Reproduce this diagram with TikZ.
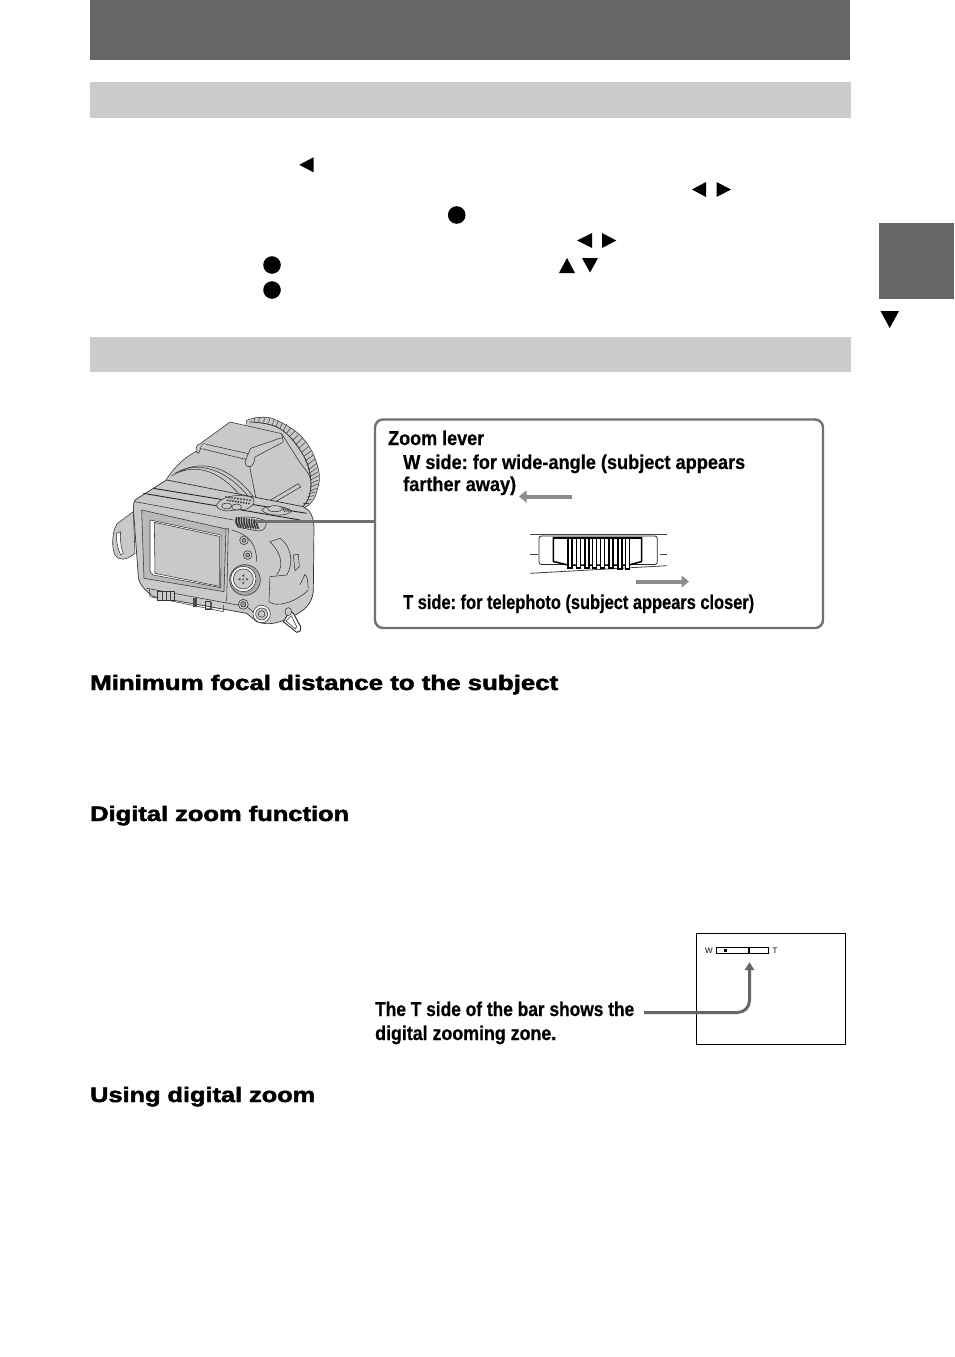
\documentclass[tikz,border=0pt]{standalone}
\usepackage{fontspec}
\usepackage{graphicx}
\setmainfont{Liberation Sans}[BoldFeatures={FakeBold=0.5}]
\newfontfamily\headf{Liberation Sans}[BoldFeatures={FakeBold=2}]
\frenchspacing
\usetikzlibrary{arrows.meta}
\definecolor{hdark}{HTML}{666666}
\definecolor{hlight}{HTML}{CCCCCC}
\definecolor{pline}{HTML}{707070}
\definecolor{cam}{HTML}{C9C9C9}
\definecolor{camd}{HTML}{9A9A9A}
\definecolor{arrg}{HTML}{8C8C8C}
\newcommand{\tw}[2]{\resizebox{#1pt}{\height}{#2}}
\tikzset{
 band/.style={fill=#1,draw=none},
 sym/.style={fill=black,draw=none},
 lab/.style={anchor=base west,inner sep=0pt,font=\fontsize{20}{22}\selectfont\bfseries},
 head/.style={anchor=base west,inner sep=0pt,font=\fontsize{21}{23}\selectfont\headf\bfseries},
 tiny/.style={anchor=center,inner sep=0pt,font=\fontsize{8}{9}\selectfont},
 gar/.style={draw=arrg,line width=4pt,-{Triangle[length=7.5pt,width=12pt]}},
 cl/.style={draw=black!80,line width=0.55pt,line join=round},
 cf/.style={cl,fill=cam},
 cw/.style={cl,fill=white}
}
\begin{document}
\begin{tikzpicture}[x=1pt,y=-1pt]
\useasboundingbox (0,0) rectangle (954,1357);
\fill[white] (0,0) rectangle (954,1357);
% bands
\fill[band=hdark] (90,0) rectangle (850,60);
\fill[band=hlight] (90,82) rectangle (851,118);
\fill[band=hlight] (90,337) rectangle (851,372);
\fill[band=hdark] (879,223) rectangle (954,299);
\fill[sym] (880.5,311) -- (899,311) -- (889.7,328) -- cycle;
% inline symbols
\fill[sym] (299.3,164.8) -- (313.5,157.3) -- (313.5,172.3) -- cycle;
\fill[sym] (692,189.5) -- (706,182) -- (706,197) -- cycle;
\fill[sym] (731,189.5) -- (716.5,182) -- (716.5,197) -- cycle;
\fill[sym] (456.7,215) circle (8.8);
\fill[sym] (577,240.5) -- (592,233) -- (592,248) -- cycle;
\fill[sym] (616.3,240.5) -- (602,233) -- (602,248) -- cycle;
\fill[sym] (567,258) -- (575,273) -- (559,273) -- cycle;
\fill[sym] (582,258) -- (598,258) -- (590,272.5) -- cycle;
\fill[sym] (272,265) circle (8.8);
\fill[sym] (272,290) circle (8.8);
% camera (coordinates in 3x crop space)
\begin{scope}[shift={(100,405)},x=0.3333pt,y=-0.3333pt]
 % lens ring with hatching
 \draw[cf] plot[smooth,tension=0.7] coordinates {(440,46) (480,37) (530,46) (610,101) (655,191) (650,261) (625,301) (590,315)} -- (440,200) -- cycle;
 \foreach \a/\b/\c/\d in {465/39/462/50,480/38/475/50,495/39/490/52,510/40/505/54,522/44/517/59,535/48/528/65,548/53/539/71,560/58/550/78,572/68/559/86,585/78/568/95,596/89/578/106,607/100/588/118,616/112/596/130,625/125/604/143,633/138/610/155,640/150/615/168,645/162/620/181,650/175/625/195,653/187/628/205,655/200/630/215,656/212/631/225,655/225/632/235,653/237/631/246,650/250/630/258,646/261/626/266,642/272/622/275,635/284/616/285,628/295/610/295}{
   \draw[black!75,line width=0.55pt] (\a,\b) -- (\c,\d);
 }
 \draw[cl] plot[smooth,tension=0.7] coordinates {(450,51) (540,71) (610,151) (632,221) (625,281) (600,311)};
 % hood cone
 \fill[cam] (305,125) -- (450,51) -- (540,71) -- (590,125) -- (610,151) -- (631,221) -- (622,280) -- (598,311) -- (420,280) -- cycle;
 \draw[cl] plot[smooth,tension=0.7] coordinates {(545,86) (595,165) (631,221) (625,281) (600,311)};
 \draw[cl] plot[smooth,tension=0.7] coordinates {(450,51) (540,71) (610,151) (632,221)};
 \draw[cl] (510,286) -- (595,236) -- (602,246) -- (525,291);
 % lens barrel
 \draw[cf] (190,240) .. controls (215,190) and (260,150) .. (305,131) -- (445,165) -- (470,290) -- (300,260) -- cycle;
 \draw[cl] (225,205) .. controls (290,165) and (380,190) .. (450,281);
 \draw[cl] (240,200) .. controls (310,160) and (395,190) .. (460,275);
 \draw[cl] (215,212) .. controls (280,175) and (350,190) .. (420,270);
 % hood
 \draw[cf] (288,131) .. controls (290,120) and (298,115) .. (305,113) -- (390,51) -- (545,86) -- (550,111) -- (465,156) .. controls (462,190) and (440,195) .. (435,171) -- (445,146) -- (310,116) .. controls (300,125) and (300,140) .. (296,145) .. controls (290,145) and (286,138) .. (288,131) -- cycle;
 \draw[cl] (445,146) -- (452,130) -- (545,98);
 % strap at left
 \draw[cf] (100,320) .. controls (80,335) and (65,345) .. (50,358) .. controls (35,385) and (35,430) .. (45,450) .. controls (55,465) and (75,470) .. (105,445) -- cycle;
 \draw[cw] (50,385) .. controls (48,405) and (52,430) .. (62,450) -- (70,445) .. controls (62,425) and (60,405) .. (62,380) -- cycle;
 % body
 \draw[cf,line width=0.7pt] (105,285) -- (160,250) -- (200,225) -- (610,305) .. controls (630,315) and (642,335) .. (642,370) -- (640,560) .. controls (635,600) and (610,620) .. (575,635) .. controls (545,650) and (510,665) .. (470,650) -- (440,625) -- (160,575) .. controls (135,555) and (118,540) .. (115,515) -- (100,310) .. controls (100,300) and (102,290) .. (105,285) -- cycle;
 \draw[black!85,line width=0.9pt] (130,265) -- (600,345);
 \draw[black!85,line width=0.9pt] (160,250) -- (620,325);
 \draw[cl] (105,290) -- (400,345);
 \draw[cl] (140,550) -- (440,605) -- (465,625);
 % dial
 \draw[cf] (350,300) .. controls (360,278) and (400,265) .. (450,275) .. controls (470,285) and (465,300) .. (440,312) -- (380,318) .. controls (360,315) and (350,310) .. (350,300) -- cycle;
 \foreach \i in {0,...,8}{
  \fill[black!70] ({378+\i*9},{276+\i*1.2}) circle (3.5);
  \fill[black!70] ({383+\i*8},{286+\i*1.2}) circle (3.5);
 }
 \draw[cf] (380,303) ellipse (15 and 9);
 \draw[cf] (410,306) ellipse (15 and 9);
 % shutter button
 \draw[cf] (485,315) .. controls (500,298) and (550,300) .. (575,318) .. controls (565,335) and (500,335) .. (485,315) -- cycle;
 \draw[cf] (525,311) ellipse (22 and 9);
 \foreach \i in {0,...,3}{\draw[black!75,line width=0.8pt] ({548+\i*6},{308+\i*1}) -- ({554+\i*6},{320});}
 % zoom lever on body
 \draw[cf] (405,345) .. controls (410,330) and (480,335) .. (500,350) .. controls (498,370) and (490,378) .. (475,378) -- (420,368) .. controls (410,362) and (405,355) .. (405,345) -- cycle;
 \foreach \i in {0,...,8}{
  \draw[black!80,line width=1.5pt] ({410+\i*7.5},{336+\i*1}) .. controls ({408+\i*7.5},{350}) and ({410+\i*7.5},{360}) .. ({416+\i*7.5},{367+\i*0.6});
 }
 % LCD frame
 \draw[cl,fill=cam!92!black] (125,315) -- (378,372) -- (372,560) -- (132,520) -- cycle;
 \draw[cl] (378,372) -- (385,370) -- (380,590);
 \draw[cw] (150,345) -- (363,390) -- (362,548) -- (160,510) .. controls (152,505) and (150,500) .. (150,495) -- cycle;
 \draw[cf] (163,352) -- (358,394) -- (358,544) -- (165,505) -- cycle;
 % side column buttons
 \draw[cl] (395,375) .. controls (450,390) and (470,420) .. (470,470);
 \draw[cf] (432,406) circle (13);
 \draw[cl,fill=camd] (432,406) circle (6);
 \draw[cf] (443,450) circle (13);
 \draw[cl,fill=camd] (443,450) circle (6);
 % four-way control
 \draw[cl,fill=camd!70!cam] (435,525) circle (46);
 \draw[cw] (430,522) circle (38);
 \draw[cf] (430,522) circle (30);
 \fill[black!80] (430,508) -- (426,514) -- (434,514) -- cycle
   (430,538) -- (426,532) -- (434,532) -- cycle
   (415,523) -- (421,519) -- (421,527) -- cycle
   (445,523) -- (439,519) -- (439,527) -- cycle;
 \fill[black!70] (430,523) circle (3);
 % lower button
 \draw[cf] (430,598) circle (15);
 \draw[cl,fill=camd] (430,598) circle (8);
 % right side door
 \draw[cl] (510,410) -- (540,400) .. controls (570,420) and (585,470) .. (560,510) -- (510,515) -- (507,590) .. controls (530,610) and (590,590) .. (625,555);
 \draw[cl] (510,410) .. controls (540,440) and (555,480) .. (530,510);
 \draw[cf] (580,450) -- (595,448) -- (598,485) -- (585,497) -- cycle;
 \draw[cl] (600,540) -- (615,508) -- (622,520) -- (625,550);
 % bottom switches
 \draw[cl] (147,550) -- (150,575) -- (370,620) -- (370,600);
 \draw[cf] (172,560) rectangle (222,585);
 \foreach \p in {185,197,210}{\fill[black!75] (\p,561) rectangle ({\p+4},585);}
 \fill[black!70] (280,580) rectangle (291,605);
 \draw[cl] (315,590) rectangle (330,614);
 \fill[black!70] (330,590) rectangle (336,615);
 % round socket
 \draw[cw] (485,627) circle (26);
 \draw[cf] (485,627) circle (18);
 \draw[cl] (485,627) circle (10);
 % strap loop
 \draw[cl,line width=1pt,fill=white] (570,618) -- (550,650) -- (590,682) .. controls (605,680) and (602,672) .. (602,665) -- (580,625) -- cycle;
 \draw[cl,fill=white] (558,648) -- (574,632) -- (590,665) -- (586,672) -- cycle;
 \draw[cf] (565,620) ellipse (10 and 12);
\end{scope}
% panel
\draw[draw=pline,line width=2.4pt,rounded corners=8pt,fill=white] (375,419.5) rectangle (823,628);
\node[lab] (zl) at (388,445) {\tw{96}{Zoom lever}};
\node[lab] (ws) at (403,469) {\tw{342}{W side: for wide-angle (subject appears}};
\node[lab] (fa) at (403,491) {\tw{113}{farther away)}};
\node[lab] (ts) at (403,609) {\tw{351}{T side: for telephoto (subject appears closer)}};
\coordinate (panelL) at (375,521.5);
\coordinate (lever) at (255,521.5);
\draw[draw=pline,line width=2.6pt] (panelL) -- (lever);
% zoom lever graphic
\coordinate (la1) at (572,496.5); \coordinate (la2) at (519,496.5);
\coordinate (ra1) at (636,581.5); \coordinate (ra2) at (689,581.5);
\draw[gar] (la1) -- (la2);
\draw[gar] (ra1) -- (ra2);
\draw[black!75,line width=0.8pt] (530,534.7) -- (667,534.7);
\draw[black!75,line width=0.8pt] (530,573.3) -- (667,565.7);
\draw[black!75,line width=0.8pt] (530,554.7) -- (538,554.7) (660,554.7) -- (667,554.7);
\draw[black!85,line width=0.8pt,rounded corners=2.5pt] (539,536) -- (539,564.5) -- (657.3,564.5) -- (657.3,536) -- cycle;
\draw[black,line width=1.5pt,fill=white,line join=miter] (553.3,537.5) -- (641.7,537.5) -- (641.7,561.5) -- (629,565) -- (568,565) -- (553.3,561.5) -- cycle;
\fill[black] (553.3,536.5) rectangle (641.7,538.8);
\foreach \x/\yb in {568/568,576.5/568,585/568,592.5/568,600.5/568,609/568,618/569,625.5/569}{
  \draw[black,line width=1.4pt,fill=white] (\x,539) -- (\x,\yb) -- ({\x+4},\yb) -- ({\x+4},539);
}
% headings
\node[head] (h1) at (90,690) {\tw{468}{Minimum focal distance to the subject}};
\node[head] (h2) at (90,821) {\tw{259}{Digital zoom function}};
\node[head] (h3) at (90,1102) {\tw{225}{Using digital zoom}};
% finder box
\draw[black,line width=1pt] (696.7,933.5) rectangle (845.7,1044.5);
\node[tiny] (w) at (709,950.8) {W};
\node[tiny] (t) at (775,950.8) {T};
\draw[black,line width=1pt,fill=white] (716.5,947.8) rectangle (768.7,953.3);
\draw[black,line width=1.2pt] (749,947.8) -- (749,953.3);
\fill[black] (724,949.2) rectangle (726.8,951.8);
% callout
\node[lab] (c1) at (375,1016) {\tw{259}{The T side of the bar shows the}};
\node[lab] (c2) at (375,1040) {\tw{181}{digital zooming zone.}};
\coordinate (c1e) at (644,1012.5);
\coordinate (bar) at (749.5,962);
\draw[draw=hdark,line width=3pt,rounded corners=12pt,-{Triangle[length=8pt,width=9pt]}] (c1e) -- (749.5,1012.5) -- (bar);
\end{tikzpicture}
\end{document}
